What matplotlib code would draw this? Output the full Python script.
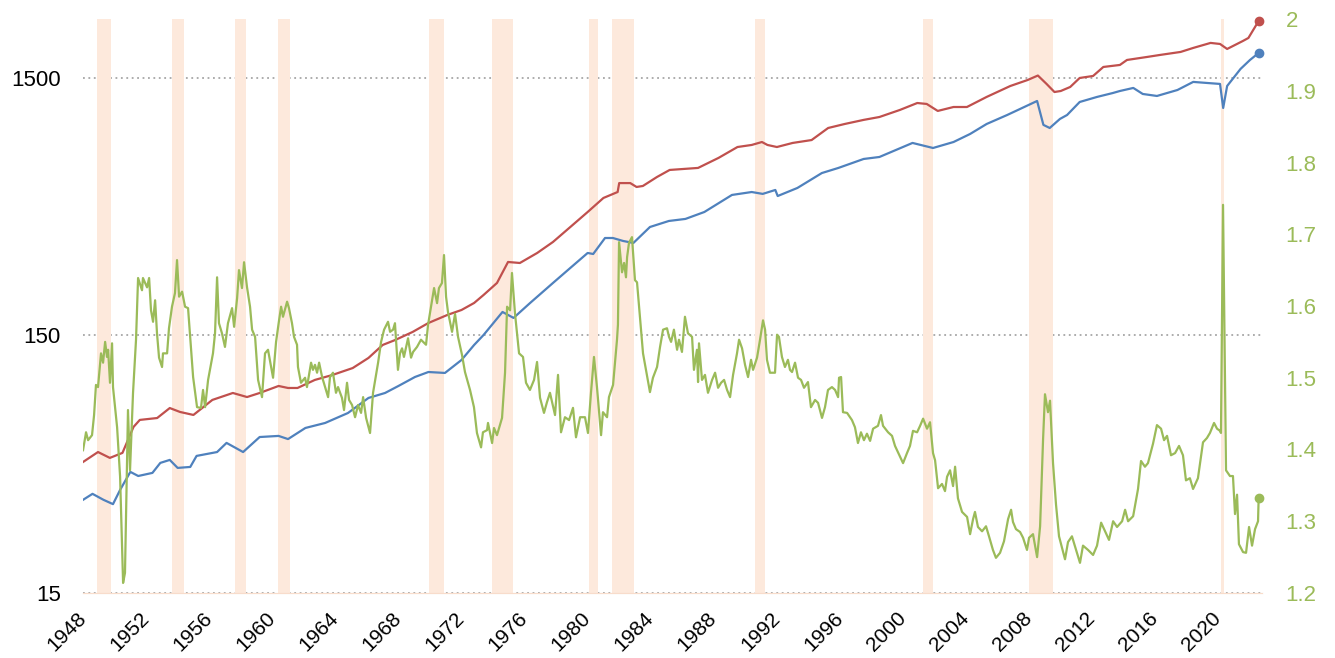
import matplotlib
matplotlib.use("Agg")
import matplotlib.pyplot as plt
from matplotlib.ticker import NullLocator

# recession periods (decimal years)
rec_start = [1948.88, 1953.62, 1957.64, 1960.37, 1969.94, 1973.94, 1980.09, 1981.55, 1990.61, 2001.25, 2007.99, 2020.18]
rec_end = [1949.78, 1954.39, 1958.34, 1961.13, 1970.89, 1975.25, 1980.66, 1982.94, 1991.25, 2001.92, 2009.51, 2020.37]

# red series (left, log)
red_year = [1948.0, 1948.95, 1949.7, 1950.5, 1951.2, 1951.6, 1952.7, 1953.5, 1954.15, 1955.0,
            1956.2, 1957.5, 1958.4, 1959.2, 1960.4, 1961.0, 1961.6, 1962.7, 1963.8, 1965.1,
            1966.1, 1967.0, 1967.8, 1968.9, 1969.9, 1971.1, 1972.0, 1972.8, 1973.4, 1974.25,
            1974.95, 1975.7, 1976.8, 1977.8, 1978.9, 1980.0, 1981.0, 1981.9, 1982.0, 1982.7,
            1983.1, 1983.5, 1984.4, 1985.2, 1987.0, 1988.3, 1989.5, 1990.4, 1991.05, 1991.4,
            1992.0, 1993.0, 1994.2, 1995.25, 1996.3, 1997.5, 1998.5, 1999.8, 2000.9, 2001.5,
            2002.2, 2003.2, 2004.05, 2005.3, 2006.8, 2007.9, 2008.55, 2009.1, 2009.6, 2010.0,
            2010.6, 2011.2, 2012.05, 2012.7, 2013.75, 2014.2, 2015.5, 2016.3, 2017.6, 2018.4,
            2019.5, 2020.1, 2020.55, 2021.55, 2021.9, 2022.55]
red_val = [48.4, 52.9, 50.2, 52.5, 66.2, 70.5, 71.7, 78.4, 75.7, 73.7,
           84.3, 89.7, 86.5, 89.7, 95.5, 93.8, 93.8, 100.8, 105.3, 112.1,
           122.7, 137.8, 144.1, 154.8, 167.7, 180.2, 188.4, 200.6, 215.5, 239.9,
           289.4, 286.8, 313.7, 346.1, 395.7, 452.5, 513, 541, 586, 586,
           566, 571, 619, 659, 671, 734, 809, 824, 846, 824,
           809, 839, 861, 959, 994, 1031, 1058, 1127, 1199, 1189,
           1117, 1157, 1157, 1266, 1396, 1473, 1533, 1422, 1323, 1335,
           1384, 1500, 1527, 1655, 1685, 1762, 1811, 1843, 1893, 1962,
           2052, 2033, 1944, 2088, 2145, 2497]

# blue series (left, log)
blue_year = [1948.0, 1948.6, 1949.3, 1949.9, 1950.35, 1951.0, 1951.5, 1952.4, 1952.9, 1953.5,
             1954.0, 1954.8, 1955.2, 1956.5, 1957.1, 1958.15, 1959.2, 1960.4, 1961.0, 1962.1,
             1963.35, 1964.8, 1966.1, 1967.15, 1968.0, 1969.05, 1969.9, 1970.95, 1972.0, 1972.8,
             1973.4, 1974.6, 1975.3, 1976.35, 1977.8, 1978.9, 1980.0, 1980.35, 1981.1, 1981.6,
             1982.25, 1982.9, 1983.95, 1985.15, 1986.2, 1987.4, 1989.15, 1990.4, 1991.1, 1991.9,
             1992.05, 1993.3, 1994.85, 1995.9, 1997.5, 1998.5, 2000.6, 2001.9, 2003.2, 2004.25,
             2005.3, 2006.6, 2008.5, 2008.9, 2009.3, 2009.95, 2010.4, 2011.2, 2012.3, 2013.3,
             2013.75, 2014.6, 2015.2, 2016.1, 2017.4, 2018.4, 2019.3, 2020.1, 2020.3, 2020.55,
             2021.4, 2022.0, 2022.55]
blue_val = [34.5, 36.4, 34.5, 33.2, 37.7, 44.3, 42.7, 43.9, 48.0, 49.3,
            45.9, 46.3, 51.1, 52.9, 57.4, 52.9, 60.5, 61.1, 59.4, 65.6,
            68.6, 75.0, 85.8, 89.7, 95.5, 103.5, 108.2, 107.3, 120.5, 137.8,
            150.7, 185.1, 175.5, 200.6, 239.9, 274.4, 313.7, 310.8, 358.6, 358.6,
            349.2, 343.1, 395.7, 417.6, 425.3, 452.5, 527, 541, 532, 551,
            522, 561, 641, 671, 727, 740, 839, 802, 846, 909,
            994, 1077, 1221, 986, 959, 1040, 1077, 1210, 1266, 1311,
            1335, 1372, 1300, 1277, 1347, 1448, 1434, 1422, 1147, 1396,
            1626, 1762, 1876]

# green series (right axis)
green_year = [1948.00, 1948.19, 1948.32, 1948.57, 1948.70, 1948.82, 1948.95, 1949.14, 1949.27, 1949.40,
              1949.52, 1949.59, 1949.71, 1949.84, 1949.90, 1950.16, 1950.35, 1950.54, 1950.66, 1950.85,
              1950.98, 1951.17, 1951.36, 1951.49, 1951.74, 1951.80, 1952.06, 1952.19, 1952.31, 1952.44,
              1952.57, 1952.69, 1952.82, 1953.01, 1953.07, 1953.33, 1953.45, 1953.64, 1953.83, 1953.96,
              1954.09, 1954.28, 1954.47, 1954.66, 1954.98, 1955.23, 1955.48, 1955.61, 1955.74, 1955.93,
              1956.24, 1956.37, 1956.50, 1956.62, 1956.81, 1957.00, 1957.19, 1957.45, 1957.58, 1957.77,
              1957.89, 1958.08, 1958.21, 1958.40, 1958.59, 1958.72, 1958.91, 1959.10, 1959.35, 1959.54,
              1959.73, 1960.05, 1960.24, 1960.43, 1960.56, 1960.68, 1960.94, 1961.06, 1961.25, 1961.38,
              1961.57, 1961.63, 1961.82, 1962.08, 1962.20, 1962.46, 1962.58, 1962.71, 1962.84, 1962.97,
              1963.16, 1963.35, 1963.54, 1963.66, 1963.85, 1964.04, 1964.17, 1964.42, 1964.55, 1964.74,
              1964.87, 1965.06, 1965.25, 1965.44, 1965.63, 1965.76, 1965.95, 1966.20, 1966.39, 1966.71,
              1966.90, 1967.09, 1967.34, 1967.47, 1967.66, 1967.78, 1967.97, 1968.10, 1968.23, 1968.35,
              1968.61, 1968.80, 1968.93, 1969.18, 1969.43, 1969.75, 1969.88, 1970.13, 1970.26, 1970.45,
              1970.57, 1970.76, 1970.89, 1971.02, 1971.14, 1971.40, 1971.59, 1971.78, 1972.03, 1972.22,
              1972.54, 1972.79, 1972.98, 1973.24, 1973.36, 1973.62, 1973.68, 1973.94, 1974.06, 1974.25,
              1974.57, 1974.76, 1974.89, 1975.08, 1975.20, 1975.39, 1975.65, 1975.90, 1976.09, 1976.34,
              1976.60, 1976.79, 1976.98, 1977.23, 1977.42, 1977.61, 1977.93, 1978.12, 1978.31, 1978.56,
              1978.82, 1979.07, 1979.26, 1979.52, 1979.83, 1980.02, 1980.21, 1980.40, 1980.59, 1980.85,
              1980.97, 1981.23, 1981.35, 1981.61, 1981.86, 1981.92, 1981.99, 1982.18, 1982.31, 1982.43,
              1982.50, 1982.62, 1982.81, 1983.00, 1983.13, 1983.32, 1983.51, 1983.70, 1983.95, 1984.14,
              1984.40, 1984.59, 1984.78, 1985.03, 1985.16, 1985.29, 1985.47, 1985.67, 1985.79, 1985.98,
              1986.17, 1986.36, 1986.62, 1986.74, 1986.93, 1987.00, 1987.06, 1987.25, 1987.44, 1987.63,
              1987.89, 1988.08, 1988.27, 1988.46, 1988.65, 1988.84, 1989.03, 1989.22, 1989.47, 1989.60,
              1989.79, 1989.98, 1990.17, 1990.36, 1990.49, 1990.74, 1990.93, 1991.12, 1991.25, 1991.37,
              1991.56, 1991.88, 1992.01, 1992.13, 1992.32, 1992.51, 1992.70, 1992.83, 1992.96, 1993.15,
              1993.34, 1993.53, 1993.72, 1993.97, 1994.16, 1994.42, 1994.61, 1994.86, 1995.05, 1995.24,
              1995.49, 1995.69, 1995.88, 1995.94, 1996.07, 1996.19, 1996.45, 1996.76, 1996.95, 1997.14,
              1997.33, 1997.52, 1997.71, 1997.91, 1998.10, 1998.41, 1998.60, 1998.73, 1999.05, 1999.30,
              1999.49, 1999.81, 2000.00, 2000.25, 2000.44, 2000.63, 2000.89, 2001.08, 2001.27, 2001.52,
              2001.71, 2001.90, 2002.03, 2002.22, 2002.47, 2002.66, 2002.79, 2002.98, 2003.17, 2003.30,
              2003.48, 2003.74, 2004.06, 2004.25, 2004.44, 2004.56, 2004.75, 2005.01, 2005.26, 2005.45,
              2005.70, 2005.89, 2006.15, 2006.40, 2006.66, 2006.85, 2006.97, 2007.16, 2007.42, 2007.61,
              2007.86, 2007.99, 2008.24, 2008.50, 2008.69, 2008.88, 2009.00, 2009.19, 2009.32, 2009.51,
              2009.70, 2009.89, 2010.27, 2010.46, 2010.71, 2011.03, 2011.22, 2011.41, 2011.73, 2012.05,
              2012.30, 2012.56, 2012.81, 2013.06, 2013.32, 2013.57, 2013.89, 2014.08, 2014.27, 2014.59,
              2014.90, 2015.09, 2015.34, 2015.53, 2015.85, 2016.10, 2016.36, 2016.55, 2016.74, 2016.99,
              2017.25, 2017.50, 2017.75, 2017.94, 2018.19, 2018.39, 2018.70, 2019.02, 2019.27, 2019.46,
              2019.72, 2019.91, 2020.10, 2020.16, 2020.29, 2020.48, 2020.73, 2020.92, 2021.05, 2021.18,
              2021.30, 2021.56, 2021.75, 2021.94, 2022.13, 2022.32, 2022.51, 2022.55]
green_val = [1.399, 1.424, 1.413, 1.420, 1.448, 1.490, 1.487, 1.534, 1.521, 1.550,
             1.529, 1.539, 1.493, 1.548, 1.487, 1.431, 1.362, 1.214, 1.228, 1.455,
             1.371, 1.479, 1.553, 1.639, 1.622, 1.639, 1.626, 1.639, 1.594, 1.578,
             1.608, 1.562, 1.528, 1.515, 1.534, 1.534, 1.569, 1.599, 1.618, 1.664,
             1.613, 1.620, 1.599, 1.597, 1.501, 1.459, 1.458, 1.483, 1.459, 1.497,
             1.534, 1.562, 1.640, 1.576, 1.562, 1.543, 1.576, 1.597, 1.571, 1.611,
             1.650, 1.625, 1.661, 1.626, 1.599, 1.567, 1.557, 1.497, 1.473, 1.534,
             1.539, 1.500, 1.550, 1.580, 1.599, 1.585, 1.606, 1.597, 1.576, 1.557,
             1.546, 1.515, 1.493, 1.500, 1.487, 1.521, 1.511, 1.518, 1.507, 1.521,
             1.501, 1.487, 1.473, 1.501, 1.507, 1.479, 1.487, 1.472, 1.455, 1.493,
             1.469, 1.462, 1.445, 1.462, 1.451, 1.473, 1.444, 1.423, 1.479, 1.521,
             1.550, 1.567, 1.578, 1.564, 1.567, 1.576, 1.511, 1.534, 1.541, 1.529,
             1.555, 1.528, 1.536, 1.543, 1.553, 1.546, 1.574, 1.608, 1.625, 1.604,
             1.625, 1.632, 1.671, 1.613, 1.592, 1.564, 1.589, 1.557, 1.532, 1.508,
             1.483, 1.459, 1.423, 1.403, 1.424, 1.427, 1.437, 1.409, 1.430, 1.420,
             1.444, 1.507, 1.599, 1.594, 1.646, 1.590, 1.534, 1.529, 1.493, 1.483,
             1.497, 1.522, 1.472, 1.451, 1.466, 1.479, 1.448, 1.504, 1.424, 1.445,
             1.441, 1.458, 1.417, 1.445, 1.445, 1.423, 1.479, 1.529, 1.487, 1.420,
             1.452, 1.445, 1.473, 1.490, 1.553, 1.574, 1.689, 1.647, 1.660, 1.640,
             1.668, 1.688, 1.696, 1.636, 1.633, 1.583, 1.534, 1.511, 1.480, 1.500,
             1.515, 1.543, 1.567, 1.569, 1.557, 1.550, 1.567, 1.539, 1.553, 1.536,
             1.585, 1.562, 1.557, 1.511, 1.539, 1.494, 1.548, 1.497, 1.504, 1.479,
             1.497, 1.507, 1.486, 1.493, 1.497, 1.483, 1.473, 1.504, 1.534, 1.553,
             1.541, 1.518, 1.501, 1.525, 1.511, 1.528, 1.553, 1.580, 1.567, 1.525,
             1.507, 1.507, 1.560, 1.557, 1.529, 1.515, 1.525, 1.511, 1.508, 1.521,
             1.500, 1.497, 1.486, 1.494, 1.459, 1.469, 1.465, 1.444, 1.459, 1.483,
             1.487, 1.483, 1.473, 1.500, 1.501, 1.452, 1.451, 1.441, 1.431, 1.409,
             1.424, 1.413, 1.422, 1.412, 1.429, 1.433, 1.448, 1.433, 1.424, 1.419,
             1.405, 1.390, 1.381, 1.395, 1.405, 1.426, 1.424, 1.433, 1.443, 1.429,
             1.438, 1.395, 1.385, 1.346, 1.352, 1.342, 1.362, 1.371, 1.349, 1.376,
             1.332, 1.313, 1.306, 1.282, 1.303, 1.313, 1.292, 1.286, 1.293, 1.279,
             1.260, 1.249, 1.256, 1.272, 1.303, 1.316, 1.299, 1.289, 1.285, 1.277,
             1.260, 1.277, 1.282, 1.250, 1.293, 1.415, 1.477, 1.452, 1.468, 1.381,
             1.323, 1.279, 1.247, 1.271, 1.279, 1.256, 1.242, 1.266, 1.260, 1.253,
             1.266, 1.298, 1.286, 1.274, 1.300, 1.292, 1.300, 1.316, 1.300, 1.307,
             1.345, 1.384, 1.376, 1.381, 1.408, 1.434, 1.429, 1.413, 1.419, 1.392,
             1.395, 1.405, 1.392, 1.357, 1.360, 1.345, 1.360, 1.410, 1.416, 1.423,
             1.437, 1.429, 1.426, 1.423, 1.741, 1.371, 1.363, 1.363, 1.310, 1.337,
             1.268, 1.257, 1.256, 1.292, 1.266, 1.289, 1.300, 1.333]

x_ticks = list(range(1948, 2021, 4))
left_ticks = [15, 150, 1500]
left_labels = ["15", "150", "1500"]
right_ticks = [1.2, 1.3, 1.4, 1.5, 1.6, 1.7, 1.8, 1.9, 2.0]
right_labels = ["1.2", "1.3", "1.4", "1.5", "1.6", "1.7", "1.8", "1.9", "2"]

RED = "#C0504D"
BLUE = "#4F81BD"
GREEN = "#9BBB59"
BAND = "#FDE9DC"

plt.rcParams["font.family"] = ["Liberation Sans", "DejaVu Sans"]

fig = plt.figure(figsize=(13.35, 6.58), dpi=100)
ax = fig.add_axes([0.0622, 0.0988, 0.8831, 0.8723])
ax.set_yscale("log")
ax.set_xlim(1948, 2022.76)
ax.set_ylim(15, 2541)

ax.set_axisbelow(True)
ax.yaxis.grid(True, color="#A6A6A6", linestyle=(0, (1, 2)), linewidth=1.3)
for s, e in zip(rec_start, rec_end):
    ax.axvspan(s, e, color=BAND, lw=0, zorder=1)

ax.plot(red_year, red_val, color=RED, lw=1.6, zorder=3)
ax.plot(blue_year, blue_val, color=BLUE, lw=1.6, zorder=3)
ax.plot(red_year[-1], red_val[-1], "o", color=RED, ms=6, zorder=4, clip_on=False)
ax.plot(blue_year[-1], blue_val[-1], "o", color=BLUE, ms=6, zorder=4, clip_on=False)

ax.set_yticks(left_ticks)
ax.set_yticklabels(left_labels)
ax.yaxis.set_minor_locator(NullLocator())
ax.set_xticks(x_ticks)
ax.set_xticklabels([str(t) for t in x_ticks], rotation=45, ha="right", va="center",
                   rotation_mode="anchor")
ax.tick_params(axis="both", length=0, colors="black")
ax.tick_params(axis="y", labelsize=16, pad=16)
ax.tick_params(axis="x", labelsize=15, pad=16)

ax2 = ax.twinx()
ax2.set_ylim(1.2, 2.0)
ax2.plot(green_year, green_val, color=GREEN, lw=1.6, zorder=3)
ax2.plot(green_year[-1], green_val[-1], "o", color=GREEN, ms=6, zorder=4, clip_on=False)
ax2.set_yticks(right_ticks)
ax2.set_yticklabels(right_labels)
ax2.tick_params(axis="y", length=0, labelsize=16, labelcolor=GREEN, pad=17)

for a in (ax, ax2):
    for side in ("top", "left", "right"):
        a.spines[side].set_visible(False)
    a.spines["bottom"].set_color("#F8DCCB")

fig.savefig("out.png", dpi=100)
